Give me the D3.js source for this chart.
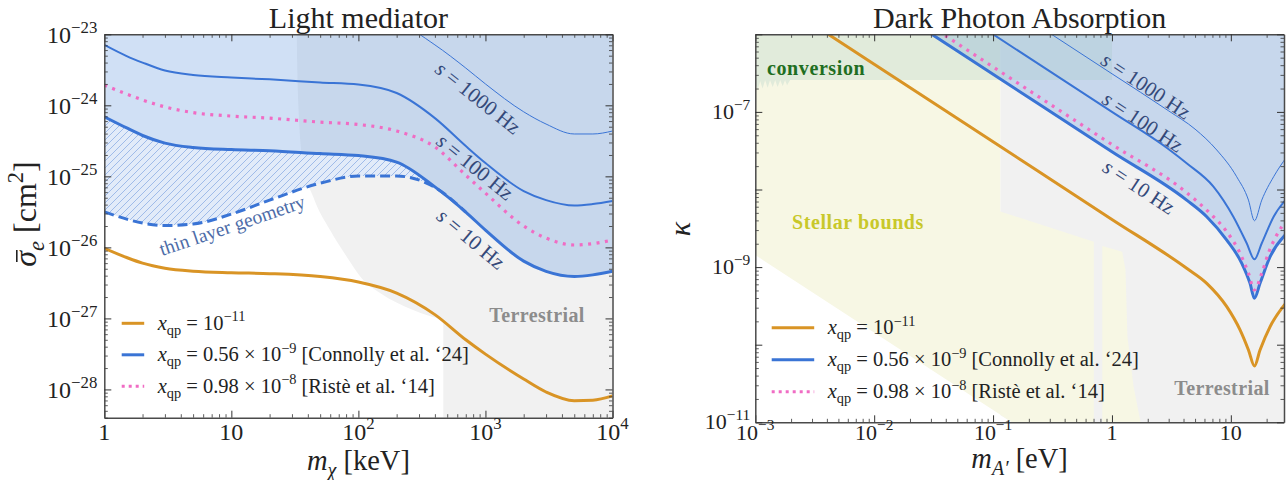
<!DOCTYPE html>
<html>
<head>
<meta charset="utf-8">
<script src="https://cdn.jsdelivr.net/npm/d3@7"></script>
<style>
  body { margin: 0; background: #fff; }
  svg { font-family: "Liberation Serif", "DejaVu Serif", serif; }
  text { white-space: pre; }
</style>
</head>
<body>
<script>
// ── Light mediator (left panel): m_chi [keV] vs sigma_e [cm^2] ─────────────
const mChi        = [1, 1.5, 2, 3, 5, 10, 20, 50, 100, 200, 400, 700, 1000, 2000, 3000, 5000, 7000, 10000];
const sigma10Hz   = [6.9e-25, 4.8e-25, 3.76e-25, 2.94e-25, 2.55e-25, 2.38e-25, 2.30e-25, 2.09e-25, 1.96e-25, 1.59e-25, 7.1e-26, 3.14e-26, 1.75e-26, 6.4e-27, 4.6e-27, 3.9e-27, 4.1e-27, 4.6e-27];
const sigma100Hz  = [7.1e-24, 4.94e-24, 4.0e-24, 3.09e-24, 2.67e-24, 2.46e-24, 2.32e-24, 2.1e-24, 1.96e-24, 1.49e-24, 6.6e-25, 2.67e-25, 1.54e-25, 6.2e-26, 4.63e-26, 3.88e-26, 4.07e-26, 4.49e-26];
const sigmaRiste  = [1.93e-24, 1.44e-24, 1.19e-24, 9.5e-25, 7.9e-25, 7.06e-25, 6.6e-25, 5.8e-25, 5.37e-25, 4.35e-25, 2.59e-25, 1.04e-25, 5.8e-26, 2.0e-26, 1.35e-26, 1.08e-26, 1.13e-26, 1.27e-26];
const sigmaXqp11  = [9.7e-27, 7.2e-27, 6.0e-27, 5.1e-27, 4.63e-27, 4.4e-27, 4.27e-27, 3.88e-27, 3.25e-27, 2.27e-27, 1.13e-27, 5.0e-28, 3.14e-28, 1.40e-28, 9.2e-29, 6.95e-29, 7.06e-29, 8.1e-29];

const mChi1000    = [100, 200, 400, 700, 1000, 2000, 3000, 5000, 7000, 10000];
const sigma1000Hz = [1.9e-23, 1.5e-23, 7.1e-24, 3.35e-24, 2.0e-24, 8.1e-25, 5.45e-25, 3.95e-25, 3.95e-25, 4.35e-25];

// thin layer geometry (dashed), same masses as the first 12 of mChi
const mChiThin    = [1, 1.5, 2, 3, 5, 10, 20, 50, 100, 200, 400, 700];
const sigmaThin   = [3.17e-26, 2.5e-26, 2.2e-26, 2.03e-26, 2.13e-26, 2.94e-26, 4.63e-26, 8.0e-26, 1.01e-25, 1.01e-25, 7.0e-26, 3.14e-26];

// terrestrial bound edge (left panel)
const terrChiM    = [32.7, 33.5, 36.6, 44, 59.8, 80.9, 109, 148, 269, 466];
const terrChiS    = [1e-23, 1.32e-24, 1.54e-25, 5.2e-26, 1.75e-26, 7.4e-27, 3.47e-27, 2.27e-27, 1.31e-27, 9.5e-28];

// ── Dark photon absorption (right panel): m_A' [eV] vs kappa ───────────────
const mA1000 = [0.2, 1, 3, 5, 7.61, 11.2, 14.07, 15.8, 18.2, 22.9, 29.6];
const k1000  = [1.55e-6, 3.1e-7, 1.03e-7, 6.0e-8, 3.23e-8, 1.46e-8, 7.3e-9, 3.96e-9, 7.3e-9, 1.46e-8, 2.65e-8];
const mA100  = [0.08, 1, 3, 4.25, 7.14, 10.5, 13.6, 15.8, 18.2, 22.9, 29.6];
const k100   = [1.25e-6, 1e-7, 3.3e-8, 2.18e-8, 1.09e-8, 4.46e-9, 2.03e-9, 1.26e-9, 2.03e-9, 4.46e-9, 7.7e-9];
const mA10   = [0.025, 0.1, 1, 4.25, 6.27, 9.24, 12.36, 14.5, 15.8, 17.6, 21.4, 29.6];
const k10    = [1.22e-6, 3.06e-7, 3.06e-8, 7.3e-9, 4.46e-9, 2.23e-9, 1.12e-9, 6.18e-10, 3.96e-10, 6.18e-10, 1.36e-9, 2.73e-9];
const mARis  = [0.03, 0.1, 1, 4.25, 6.68, 9.24, 11.95, 14.07, 15.8, 18.2, 20.7, 26.8];
const kRis   = [1.27e-6, 3.8e-7, 3.8e-8, 9.1e-9, 4.93e-9, 2.86e-9, 1.51e-9, 8.32e-10, 5.07e-10, 8.32e-10, 1.51e-9, 3.32e-9];
const mAXqp  = [0.003, 0.01, 0.1, 1, 4.25, 6.27, 9.24, 11.95, 14.07, 15.8, 17.6, 21.4, 29.6];
const kXqp   = [1.37e-6, 4.12e-7, 4.12e-8, 4.12e-9, 9.66e-10, 6.18e-10, 3.09e-10, 1.55e-10, 8.55e-11, 5.32e-11, 8.55e-11, 1.71e-10, 3.58e-10];

// shaded bounds (right panel)
const stellarM   = [1e-3, 0.115, 0.115, 0.704, 0.704, 0.144, 1e-3];
const stellarK   = [1e-6, 1e-6, 5.2e-9, 2.12e-9, 1e-11, 1e-11, 1.43e-9];
const stellar2M  = [0.829, 1.22, 1.30, 1.35, 1.52, 1.74, 0.829];
const stellar2K  = [1.87e-9, 1.58e-9, 9.2e-10, 1.27e-10, 2.9e-11, 1e-11, 1e-11];
const terrAM     = [0.115, 28, 28, 0.144, 0.115];
const terrAK     = [1e-6, 1e-6, 1e-11, 1e-11, 1.24e-11];
const convM      = [1e-3, 1, 1, 1.96e-3, 1.85e-3, 1.78e-3, 1.7e-3, 1.62e-3, 1.54e-3, 1.47e-3, 1.4e-3, 1.33e-3, 1.27e-3, 1.21e-3, 1.15e-3, 1.1e-3, 1.05e-3, 1e-3];
const convK      = [1e-6, 1e-6, 2.58e-7, 2.58e-7, 2.2e-7, 2.58e-7, 2.15e-7, 2.58e-7, 2.1e-7, 2.58e-7, 2.1e-7, 2.58e-7, 2.05e-7, 2.58e-7, 2.0e-7, 2.5e-7, 1.95e-7, 2.3e-7];

// ── colours ────────────────────────────────────────────────────────────────
const cBlue   = "#3a74d5";
const cOrange = "#d99425";
const cPink   = "#f06cc4";
const cLabel  = "#34497a";
const cGray   = "#f1f1f1";
const cStell  = "#f7f7e4";

const svg = d3.select("body").append("svg").attr("width", 1286).attr("height", 480);
const defs = svg.append("defs");

const xL = d3.scaleLog().domain([1, 1e4]).range([104.3, 612.5]);
const yL = d3.scaleLog().domain([4e-29, 1e-23]).range([417.7, 34.3]);
const xR = d3.scaleLog().domain([1e-3, 28]).range([755.3, 1284]);
const yR = d3.scaleLog().domain([1e-11, 1e-6]).range([422.3, 34.3]);

const zip = (xs, ys) => xs.map((x, i) => [x, ys[i]]);
const lineOf = (x, y) => d3.line().x(d => x(d[0])).y(d => y(d[1])).curve(d3.curveMonotoneX);
const polyOf = (x, y) => d3.line().x(d => x(d[0])).y(d => y(d[1]));

function clip(id, x, y) {
  defs.append("clipPath").attr("id", id).append("rect")
    .attr("x", x.range()[0]).attr("y", y.range()[1])
    .attr("width", x.range()[1] - x.range()[0])
    .attr("height", y.range()[0] - y.range()[1]);
}
clip("clipL", xL, yL);
clip("clipR", xR, yR);

// hatch for thin layer geometry
const pat = defs.append("pattern").attr("id", "hatch")
  .attr("patternUnits", "userSpaceOnUse").attr("width", 7).attr("height", 7);
pat.append("rect").attr("width", 7).attr("height", 7).attr("fill", "#e2ebf9");
pat.append("path").attr("d", "M-1,1 l2,-2 M0,7 l7,-7 M6,8 l2,-2")
  .attr("stroke", "#8eaee4").attr("stroke-width", 0.8);

// rich text: parts = [[text, mode]], mode "", "i", "sup", "sub", "isub"
function rich(sel, parts, size) {
  let shift = 0;
  parts.forEach(([t, mode]) => {
    const small = mode === "sup" || mode === "sub" || mode === "isub";
    const target = mode === "sup" ? -0.42 * size : small ? 0.24 * size : 0;
    sel.append("tspan")
      .attr("dy", (target - shift).toFixed(2))
      .attr("font-size", small ? size * 0.7 : size)
      .attr("font-style", mode === "i" || mode === "isub" ? "italic" : null)
      .text(t);
    shift = target;
  });
  return sel;
}

function label(g, x, y, parts, size, opt = {}) {
  const t = g.append("text")
    .attr("transform", `translate(${x},${y})` + (opt.rot ? ` rotate(${opt.rot})` : ""))
    .attr("text-anchor", opt.anchor || "start")
    .attr("fill", opt.color || "#222")
    .attr("font-size", size)
    .attr("font-weight", opt.bold ? "bold" : null)
    .attr("letter-spacing", opt.spacing || null);
  if (opt.central) t.attr("dominant-baseline", "central");
  return rich(t, parts, size);
}

const pow10 = e => e === 0 ? [["1", ""]] : e === 1 ? [["10", ""]] : [["10", ""], [(e < 0 ? "\u2212" : "") + Math.abs(e), "sup"]];

function decadeTicks(lo, hi) {
  const major = [], minor = [];
  for (let e = Math.floor(Math.log10(lo)); e <= Math.ceil(Math.log10(hi)); e++) {
    const v = Math.pow(10, e);
    if (v >= lo * 0.999 && v <= hi * 1.001) major.push(v);
    for (let k = 2; k <= 9; k++) {
      const m = k * v;
      if (m >= lo && m <= hi) minor.push(m);
    }
  }
  return { major, minor };
}

function frame(x, y) {
  const [x0, x1] = x.range(), [y0, y1] = y.range();
  const tx = decadeTicks(...x.domain()), ty = decadeTicks(...y.domain());
  const put = (axis, t, vals, len, keepDomain) => {
    const g = svg.append("g").attr("transform", t)
      .call(axis.tickValues(vals).tickSize(-len).tickSizeOuter(0).tickFormat(""));
    g.selectAll(".tick line").attr("stroke", "#333").attr("stroke-width", len > 5 ? 1 : 0.8);
    if (keepDomain) g.select(".domain").attr("stroke", "#4a4a4a").attr("stroke-width", 1.5);
    else g.select(".domain").remove();
  };
  [[d3.axisBottom(x), `translate(0,${y0})`], [d3.axisTop(x), `translate(0,${y1})`]].forEach(([a, t]) => {
    put(a, t, tx.minor, 3.5, false);
    put(a, t, tx.major, 7, true);
  });
  [[d3.axisLeft(y), `translate(${x0},0)`], [d3.axisRight(y), `translate(${x1},0)`]].forEach(([a, t]) => {
    put(a, t, ty.minor, 3.5, false);
    put(a, t, ty.major, 7, true);
  });
}

// ═════════════ LEFT PANEL ═════════════
const gL = svg.append("g").attr("clip-path", "url(#clipL)");

// terrestrial
gL.append("path")
  .attr("d", lineOf(xL, yL)(zip(terrChiM, terrChiS)) +
    `L${xL(terrChiM[terrChiM.length - 1])},${yL.range()[0]}` +
    `L${xL.range()[1]},${yL.range()[0]}L${xL.range()[1]},${yL.range()[1]}Z`)
  .attr("fill", cGray);

// excluded region above s = 10 Hz
gL.append("path")
  .datum(zip(mChi, sigma10Hz))
  .attr("d", d3.area().x(d => xL(d[0])).y0(yL.range()[1]).y1(d => yL(d[1])).curve(d3.curveMonotoneX))
  .attr("fill", "rgb(121,166,226)").attr("fill-opacity", 0.35);

// thin layer hatch
gL.append("path")
  .datum(mChiThin.map((m, i) => ({ m, lo: sigmaThin[i], hi: sigma10Hz[i] })))
  .attr("d", d3.area().x(d => xL(d.m)).y0(d => yL(d.hi)).y1(d => yL(d.lo)).curve(d3.curveMonotoneX))
  .attr("fill", "url(#hatch)");

const lineL = lineOf(xL, yL);
gL.append("path").datum(zip(mChi1000, sigma1000Hz)).attr("d", lineL)
  .attr("fill", "none").attr("stroke", cBlue).attr("stroke-width", 1);
gL.append("path").datum(zip(mChi, sigma100Hz)).attr("d", lineL)
  .attr("fill", "none").attr("stroke", cBlue).attr("stroke-width", 2);
gL.append("path").datum(zip(mChi, sigma10Hz)).attr("d", lineL)
  .attr("fill", "none").attr("stroke", cBlue).attr("stroke-width", 3);
gL.append("path").datum(zip(mChiThin, sigmaThin)).attr("d", lineL)
  .attr("fill", "none").attr("stroke", cBlue).attr("stroke-width", 3).attr("stroke-dasharray", "10 5");
gL.append("path").datum(zip(mChi, sigmaRiste)).attr("d", lineL)
  .attr("fill", "none").attr("stroke", cPink).attr("stroke-width", 3.2).attr("stroke-dasharray", "3 5.5");
gL.append("path").datum(zip(mChi, sigmaXqp11)).attr("d", lineL)
  .attr("fill", "none").attr("stroke", cOrange).attr("stroke-width", 3);

label(svg, 478, 98, [["s", "i"], [" = 1000 Hz", ""]], 21, { rot: 38.6, anchor: "middle", central: true, color: cLabel });
label(svg, 475, 167, [["s", "i"], [" = 100 Hz", ""]], 21, { rot: 39, anchor: "middle", central: true, color: cLabel });
label(svg, 471, 239, [["s", "i"], [" = 10 Hz", ""]], 21, { rot: 40, anchor: "middle", central: true, color: cLabel });
label(svg, 232, 225, [["thin layer geometry", ""]], 19.5, { rot: -18.7, anchor: "middle", central: true, color: "#4d6ca8" });
label(svg, 537, 322, [["Terrestrial", ""]], 20, { anchor: "middle", bold: true, color: "#8c8c8c", spacing: 0.4 });

frame(xL, yL);

// tick labels
decadeTicks(...xL.domain()).major.forEach(v =>
  label(svg, xL(v), 439.5, pow10(Math.round(Math.log10(v))), 24, { anchor: "middle" }));
decadeTicks(...yL.domain()).major.forEach(v =>
  label(svg, xL.range()[0] - 7, yL(v) + 8.5, pow10(Math.round(Math.log10(v))), 24, { anchor: "end" }));

label(svg, 358.4, 28, [["Light mediator", ""]], 30, { anchor: "middle" });
label(svg, 358.4, 470, [["m", "i"], ["\u03c7", "isub"], [" [keV]", ""]], 28.5, { anchor: "middle" });

// y label with a macron drawn over sigma
const yLab = svg.append("g").attr("transform", "translate(36,214) rotate(-90)");
const yTxt = label(yLab, 0, 0, [["\u03c3", "i"], ["e", "isub"], [" [cm", ""], ["2", "sup"], ["]", ""]], 32, { anchor: "middle" });
const sigBox = yTxt.node().getExtentOfChar(0);
yLab.append("line")
  .attr("x1", sigBox.x + sigBox.width * 0.3).attr("x2", sigBox.x + sigBox.width * 1.05)
  .attr("y1", -0.6 * 32).attr("y2", -0.6 * 32)
  .attr("stroke", "#222").attr("stroke-width", 1.6);

// ═════════════ RIGHT PANEL ═════════════
const gR = svg.append("g").attr("clip-path", "url(#clipR)");
const polyR = polyOf(xR, yR);

gR.append("path").attr("d", polyR(zip(terrAM, terrAK)) + "Z").attr("fill", cGray);
gR.append("path").attr("d", polyR(zip(stellarM, stellarK)) + "Z").attr("fill", cStell);
gR.append("path").attr("d", polyR(zip(stellar2M, stellar2K)) + "Z").attr("fill", cStell);

gR.append("path")
  .datum(zip(mA10, k10))
  .attr("d", d3.area().x(d => xR(d[0])).y0(yR.range()[1]).y1(d => yR(d[1])).curve(d3.curveMonotoneX))
  .attr("fill", "rgb(121,166,226)").attr("fill-opacity", 0.35);

gR.append("path").attr("d", polyR(zip(convM, convK)) + "Z")
  .attr("fill", "rgb(160,200,190)").attr("fill-opacity", 0.25);

const lineR = lineOf(xR, yR);
gR.append("path").datum(zip(mA1000, k1000)).attr("d", lineR)
  .attr("fill", "none").attr("stroke", cBlue).attr("stroke-width", 1);
gR.append("path").datum(zip(mA100, k100)).attr("d", lineR)
  .attr("fill", "none").attr("stroke", cBlue).attr("stroke-width", 2);
gR.append("path").datum(zip(mA10, k10)).attr("d", lineR)
  .attr("fill", "none").attr("stroke", cBlue).attr("stroke-width", 3);
gR.append("path").datum(zip(mARis, kRis)).attr("d", lineR)
  .attr("fill", "none").attr("stroke", cPink).attr("stroke-width", 3.2).attr("stroke-dasharray", "3 5.5");
gR.append("path").datum(zip(mAXqp, kXqp)).attr("d", lineR)
  .attr("fill", "none").attr("stroke", cOrange).attr("stroke-width", 3);

label(svg, 1146, 86, [["s", "i"], [" = 1000 Hz", ""]], 21, { rot: 33.5, anchor: "middle", central: true, color: cLabel });
label(svg, 1143, 122, [["s", "i"], [" = 100 Hz", ""]], 21, { rot: 33.5, anchor: "middle", central: true, color: cLabel });
label(svg, 1139, 187, [["s", "i"], [" = 10 Hz", ""]], 21, { rot: 33.5, anchor: "middle", central: true, color: cLabel });
label(svg, 767, 75, [["conversion", ""]], 20, { bold: true, color: "#1f6e22", spacing: 0.6 });
label(svg, 792, 229, [["Stellar bounds", ""]], 20, { bold: true, color: "#c8c82a", spacing: 0.6 });
label(svg, 1222, 395, [["Terrestrial", ""]], 20, { anchor: "middle", bold: true, color: "#8c8c8c", spacing: 0.4 });

frame(xR, yR);

decadeTicks(...xR.domain()).major.forEach(v =>
  label(svg, xR(v), 439.5, pow10(Math.round(Math.log10(v))), 22, { anchor: "middle" }));
decadeTicks(...yR.domain()).major
  .filter(v => Math.round(Math.log10(v)) % 2 !== 0)
  .forEach(v => label(svg, xR.range()[0] - 5, yR(v) + 7, pow10(Math.round(Math.log10(v))), 22, { anchor: "end" }));

label(svg, 1019.6, 28, [["Dark Photon Absorption", ""]], 30, { anchor: "middle" });
label(svg, 1019.6, 468, [["m", "i"], ["A\u2032", "isub"], [" [eV]", ""]], 28.5, { anchor: "middle" });
label(svg, 690, 229, [["\u03ba", "i"]], 30, { rot: -90, anchor: "middle" });

// ═════════════ LEGENDS ═════════════
const legendItems = [
  { color: cOrange, dash: null, parts: [["x", "i"], ["qp", "sub"], [" = 10", ""], ["\u221211", "sup"]] },
  { color: cBlue, dash: null, parts: [["x", "i"], ["qp", "sub"], [" = 0.56 \u00d7 10", ""], ["\u22129", "sup"], [" [Connolly et al. \u201824]", ""]] },
  { color: cPink, dash: "3 4", parts: [["x", "i"], ["qp", "sub"], [" = 0.98 \u00d7 10", ""], ["\u22128", "sup"], [" [Rist\u00e8 et al. \u201814]", ""]] }
];
function legend(x, y, dy, len) {
  legendItems.forEach((it, i) => {
    const yy = y + i * dy;
    svg.append("line").attr("x1", x).attr("x2", x + len).attr("y1", yy).attr("y2", yy)
      .attr("stroke", it.color).attr("stroke-width", 3).attr("stroke-dasharray", it.dash);
    label(svg, x + len + 13.5, yy + 6.5, it.parts, 20.5, {});
  });
}
legend(121.7, 323.3, 31.5, 22.5);
legend(771.7, 327.7, 32, 42.5);
</script>
</body>
</html>
